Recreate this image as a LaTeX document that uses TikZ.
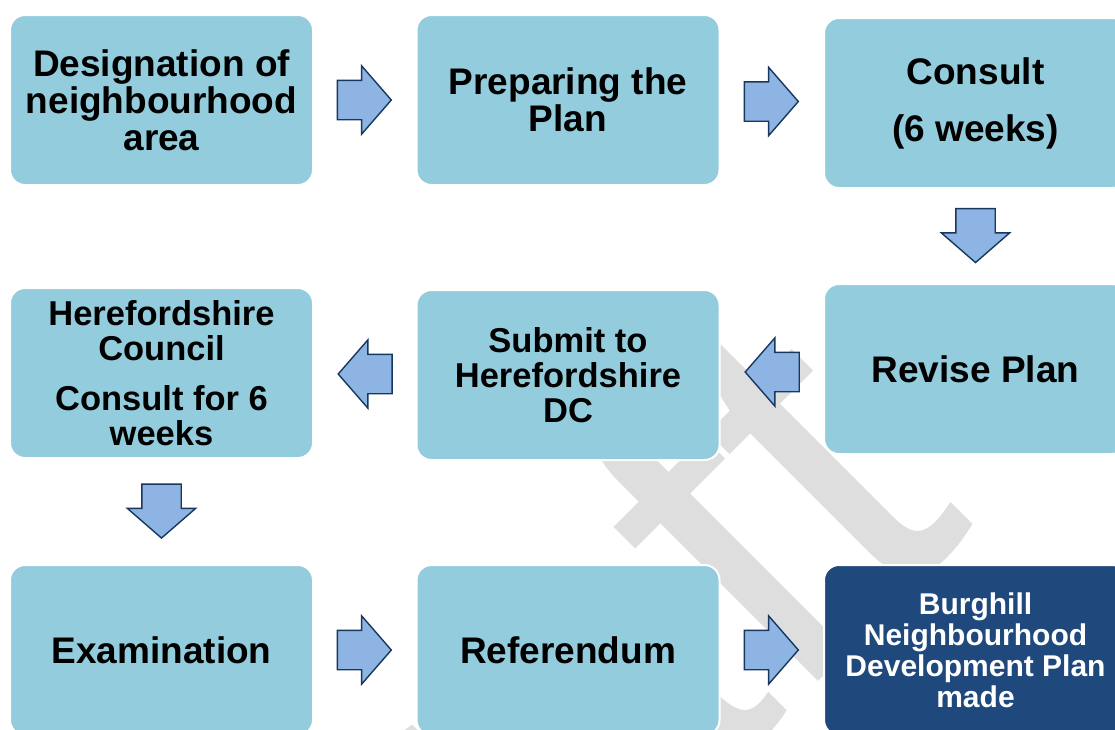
\documentclass[tikz,border=0pt]{standalone}
\usepackage{fontspec}
\setmainfont{Liberation Sans}
\usetikzlibrary{shapes.arrows,calc}
\definecolor{boxAqua}{RGB}{147,205,221}
\definecolor{boxNavy}{RGB}{31,73,125}
\definecolor{arrowFill}{RGB}{142,180,227}
\definecolor{arrowLine}{RGB}{23,55,94}
\definecolor{markGray}{RGB}{222,222,222}

\tikzset{
  stage/.style = {rounded corners=15pt, fill=boxAqua, draw=white, line width=2pt,
                  minimum width=303pt, minimum height=170pt,
                  inner sep=0pt, align=center, font=\bfseries\fontsize{37}{37}\selectfont},
  flow/.style = {single arrow, draw=arrowLine, fill=arrowFill, line width=1.4pt,
                 inner xsep=0pt, inner ysep=19pt, single arrow head extend=14.5pt,
                 single arrow tip angle=98, minimum height=54pt, rotate=#1, xshift=-9pt},
  flow/.default = 0
}

\begin{document}
\begin{tikzpicture}[x=1pt,y=-1pt]
    \useasboundingbox (0,0) rectangle (1115,729);
    \clip (0,0) rectangle (1115,729);

    % watermark
    \node[text=markGray, rotate=45, anchor=base west, inner sep=0pt,
          font=\fontsize{480}{480}\selectfont](draftMark) at (241.5,1258.5) {Draft};

    % first row
    \node[stage](designation) at (161.5,100) {Designation of\\neighbourhood\\area};
    \node[stage](preparing) at (568,100) {Preparing the\\Plan};
    \node[stage](consult) at (975.5,103) {Consult\\[20pt](6 weeks)};

    % second row
    \node[stage, font=\bfseries\fontsize{34.5}{35}\selectfont](council) at (161.5,373) {Herefordshire\\Council\\[15pt]Consult for 6\\weeks};
    \node[stage, font=\bfseries\fontsize{34.5}{35}\selectfont](submit) at (568,375) {Submit to\\Herefordshire\\DC};
    \node[stage](revise) at (975.5,369) {Revise Plan};

    % third row
    \node[stage](examination) at (161.5,650) {Examination};
    \node[stage](referendum) at (568,650) {Referendum};
    \node[stage, fill=boxNavy, text=white, font=\bfseries\fontsize{30}{31}\selectfont](made) at (975.5,650) {Burghill\\Neighbourhood\\Development Plan\\made};

    % block arrows
    \node[flow] (a1) at ($(designation.east)!0.5!(preparing.west)$) {};
    \node[flow] (a2) at ($(preparing.east)!0.5!(consult.west)$) {};
    \node[flow=270] (a3) at ($(consult.south)!0.5!(revise.north)$) {};
    \node[flow=180] (a4) at ($(revise.west)!0.5!(submit.east)$) {};
    \node[flow=180] (a5) at ($(submit.west)!0.5!(council.east)$) {};
    \node[flow=270] (a6) at ($(council.south)!0.5!(examination.north)$) {};
    \node[flow] (a7) at ($(examination.east)!0.5!(referendum.west)$) {};
    \node[flow] (a8) at ($(referendum.east)!0.5!(made.west)$) {};
\end{tikzpicture}
\end{document}
